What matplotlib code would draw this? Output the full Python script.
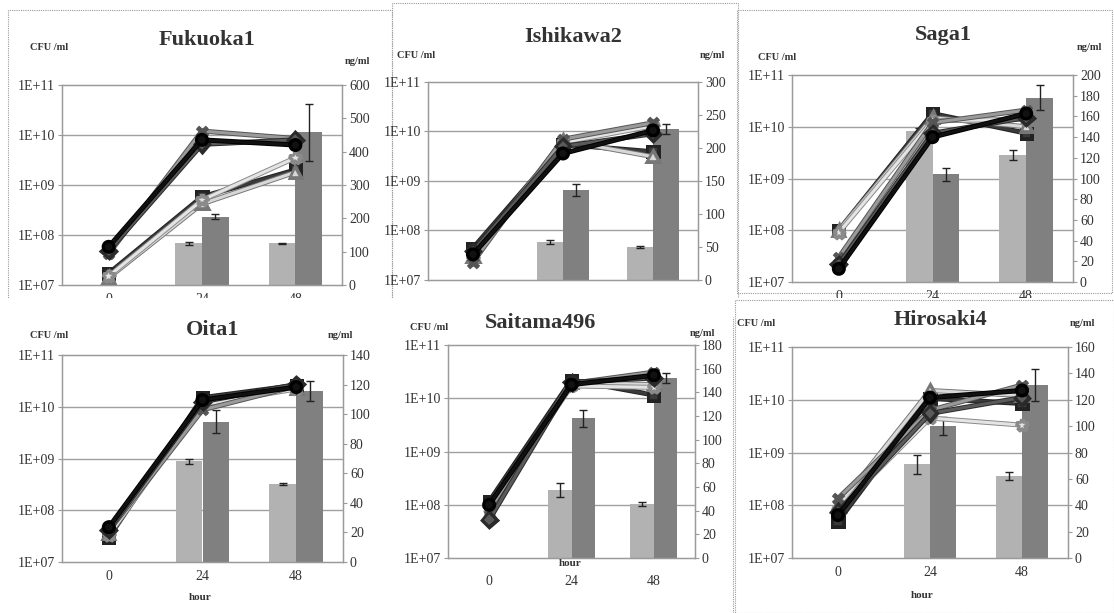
import numpy as np
import matplotlib
matplotlib.use("Agg")
import matplotlib.pyplot as plt
import matplotlib.patheffects as pe
from matplotlib.patches import Rectangle

W, H = 1114, 613

hours = ["0", "24", "48"]
cfu_ticks = [1e7, 1e8, 1e9, 1e10, 1e11]
cfu_tick_labels = ["1E+07", "1E+08", "1E+09", "1E+10", "1E+11"]

# CFU/ml line series, one list per strain (0, 24, 48 h)
fukuoka_cfu = [
    [1.7e7, 5.8e8, 2.0e9],
    [1.4e7, 4.2e8, 1.8e9],
    [1.5e7, 5.0e8, 3.5e9],
    [4.2e7, 1.2e10, 8.5e9],
    [4.8e7, 6.5e9, 8.0e9],
    [5.8e7, 8.0e9, 6.3e9],
]
ishikawa_cfu = [
    [4.4e7, 5.5e9, 3.9e9],
    [3.0e7, 6.6e9, 3.1e9],
    [2.8e7, 6.0e9, 1.3e10],
    [2.3e7, 7.0e9, 1.5e10],
    [3.8e7, 5.0e9, 9.0e9],
    [3.3e7, 3.6e9, 1.05e10],
]
saga_cfu = [
    [1.0e8, 1.8e10, 7.5e9],
    [1.0e8, 1.5e10, 1.0e10],
    [9.0e7, 1.3e10, 1.4e10],
    [3.0e7, 1.2e10, 2.1e10],
    [2.2e7, 7.5e9, 1.5e10],
    [1.8e7, 6.3e9, 1.8e10],
]
oita_cfu = [
    [3.0e7, 1.5e10, 2.6e10],
    [3.5e7, 1.2e10, 2.3e10],
    [3.3e7, 1.1e10, 2.2e10],
    [4.0e7, 8.7e9, 2.5e10],
    [4.2e7, 1.25e10, 2.7e10],
    [4.7e7, 1.35e10, 2.4e10],
]
saitama_cfu = [
    [1.15e8, 2.2e10, 1.15e10],
    [7.0e7, 2.0e10, 1.8e10],
    [9.0e7, 1.7e10, 1.6e10],
    [8.0e7, 1.9e10, 3.1e10],
    [5.2e7, 2.0e10, 2.4e10],
    [1.0e8, 1.8e10, 2.7e10],
]
hirosaki_cfu = [
    [4.9e7, 1.06e10, 8.5e9],
    [9.5e7, 1.5e10, 1.2e10],
    [8.0e7, 4.5e9, 3.3e9],
    [1.35e8, 6.3e9, 1.9e10],
    [7.5e7, 5.5e9, 1.1e10],
    [6.5e7, 1.1e10, 1.5e10],
]

# ng/ml bars (light / dark) with error bars
fukuoka_light, fukuoka_light_err = [0, 125, 125], [0, 5, 2]
fukuoka_dark, fukuoka_dark_err = [0, 205, 458], [0, 8, 85]
ishikawa_light, ishikawa_light_err = [0, 58, 50], [0, 3, 1]
ishikawa_dark, ishikawa_dark_err = [0, 136, 229], [0, 9, 8]
saga_light, saga_light_err = [0, 146, 123], [0, 3, 5]
saga_dark, saga_dark_err = [0, 104, 178], [0, 6, 12]
oita_light, oita_light_err = [0, 68, 52.6], [0, 2, 0.5]
oita_dark, oita_dark_err = [0, 95, 115.6], [0, 8, 7]
saitama_light, saitama_light_err = [0, 57.6, 45.6], [0, 6, 2]
saitama_dark, saitama_dark_err = [0, 118, 152], [0, 7, 4]
hirosaki_light, hirosaki_light_err = [0, 71, 62.5], [0, 7, 3]
hirosaki_dark, hirosaki_dark_err = [0, 100, 131], [0, 7, 12]

# line looks: (colour, marker, outline)
line_styles = [
    ("#3a3a3a", "s", "#222222"),
    ("#d8d8d8", "^", "#777777"),
    ("#e4e4e4", "*", "#8a8a8a"),
    ("#9a9a9a", "x", "#555555"),
    ("#5a5a5a", "D", "#2a2a2a"),
    ("#111111", "o", "#000000"),
]

SERIF = ["Liberation Serif", "DejaVu Serif"]
plt.rcParams["font.family"] = SERIF

fig = plt.figure(figsize=(W / 100, H / 100), dpi=100)
fig.patch.set_facecolor("white")


def fx(x):
    return x / W


def fy(y):
    return 1 - y / H


def frame(l, t, r, b, z):
    fig.patches.append(Rectangle((fx(l), fy(b)), fx(r - l), (b - t) / H,
                                 transform=fig.transFigure, fill=False,
                                 edgecolor="#9a9a9a", lw=0.8,
                                 linestyle=(0, (1, 1)), zorder=z))


def vline(x, t, b, z):
    fig.add_artist(plt.Line2D([fx(x), fx(x)], [fy(b), fy(t)], transform=fig.transFigure,
                              color="#9a9a9a", lw=0.8, linestyle=(0, (1, 1)), zorder=z))


def no_zero(err):
    return [e if e > 0 else np.nan for e in err]


def panel(box, title, title_xy, cfu_xy, ng_xy, hour_xy, cfu, light, light_err,
          dark, dark_err, ng_max, ng_step, z, xpad=6):
    l, t, r, b = box
    ax2 = fig.add_axes([fx(l), fy(b), fx(r - l), (b - t) / H])
    ax2.set_zorder(z)
    ax = ax2.twinx()
    ax.set_zorder(z + 0.1)
    ax.patch.set_visible(False)

    x = np.arange(len(hours))
    bw = 0.286
    for k in (1, 2, 3):
        ax2.plot([0, 1], [k / 4, k / 4], transform=ax2.transAxes,
                 color="#a0a0a0", lw=1.0, zorder=0)
    ekw = dict(ecolor="#222222", lw=1, capsize=3, capthick=1)
    ax2.bar(x - bw / 2, light, bw, color="#b2b2b2", zorder=2,
            yerr=no_zero(light_err), error_kw=ekw)
    ax2.bar(x + bw / 2, dark, bw, color="#808080", zorder=2,
            yerr=no_zero(dark_err), error_kw=ekw)
    ax2.set_ylim(0, ng_max)
    ax2.set_xlim(-0.5, 2.5)
    ax2.yaxis.tick_right()
    ax2.set_yticks(np.arange(0, ng_max + 1, ng_step))

    for vals, (c, m, oc) in zip(cfu, line_styles):
        ax.plot(x, vals, color=c, marker=m, ms=6.5 if m != "*" else 9, lw=2.2,
                mec=oc, mew=1.2 if m != "x" else 2,
                path_effects=[pe.withStroke(linewidth=3.6, foreground=oc)])
    ax.set_yscale("log")
    ax.set_ylim(1e7, 1e11)
    ax.yaxis.tick_left()
    ax.set_yticks(cfu_ticks)
    ax.set_yticklabels(cfu_tick_labels)
    ax.minorticks_off()

    ax2.set_xticks(x)
    ax2.set_xticklabels(hours)
    for a in (ax, ax2):
        for s in a.spines.values():
            s.set_color("#9a9a9a")
            s.set_linewidth(0.9)
        a.tick_params(labelsize=10, colors="#333333", length=3, width=0.8,
                      direction="out", pad=2)
        a.tick_params(axis="y", color="#9a9a9a")
    ax2.tick_params(axis="x", length=0, pad=xpad)

    fig.text(fx(title_xy[0]), fy(title_xy[1]), title, ha="center", va="center",
             fontsize=16, fontweight="bold", color="#333333", zorder=z + 0.2)
    fig.text(fx(cfu_xy[0]), fy(cfu_xy[1]), "CFU /ml", ha="left", va="center",
             fontsize=7.5, fontweight="bold", color="#333333", zorder=z + 0.2)
    fig.text(fx(ng_xy[0]), fy(ng_xy[1]), "ng/ml", ha="left", va="center",
             fontsize=7.5, fontweight="bold", color="#333333", zorder=z + 0.2)
    if hour_xy is not None:
        fig.text(fx(hour_xy[0]), fy(hour_xy[1]), "hour", ha="center", va="center",
                 fontsize=8, fontweight="bold", color="#333333", zorder=z + 0.2)


# top row
frame(8, 10, 392, 300, 0)
frame(392, 3, 738, 300, 0)
frame(737, 10, 1112, 293, 0)
panel((62, 85, 342, 285), "Fukuoka1", (207, 40), (30, 47), (345, 62), None,
      fukuoka_cfu, fukuoka_light, fukuoka_light_err, fukuoka_dark, fukuoka_dark_err,
      600, 100, 1)
panel((428, 82, 698, 280), "Ishikawa2", (573, 37), (397, 56), (700, 56), None,
      ishikawa_cfu, ishikawa_light, ishikawa_light_err, ishikawa_dark, ishikawa_dark_err,
      300, 50, 1)
panel((792, 75, 1073, 282), "Saga1", (943, 35), (758, 57), (1077, 47), None,
      saga_cfu, saga_light, saga_light_err, saga_dark, saga_dark_err,
      200, 20, 1)

# lower row sits on top of the upper one
fig.patches.append(Rectangle((0, 0), 1, fy(298), transform=fig.transFigure,
                             facecolor="white", edgecolor="none", zorder=3))
fig.patches.append(Rectangle((fx(394), 0), fx(342), fy(287), transform=fig.transFigure,
                             facecolor="white", edgecolor="none", zorder=3))
vline(733, 317, 613, 3.5)
frame(735, 300, 1114, 613, 3.5)
panel((62, 355, 343, 562), "Oita1", (213, 330), (30, 336), (328, 336), (200, 598),
      oita_cfu, oita_light, oita_light_err, oita_dark, oita_dark_err,
      140, 20, 4)
panel((448, 345, 695, 558), "Saitama496", (540, 323), (410, 328), (690, 333), (570, 564),
      saitama_cfu, saitama_light, saitama_light_err, saitama_dark, saitama_dark_err,
      180, 20, 4, xpad=12)
panel((792, 347, 1068, 558), "Hirosaki4", (940, 320), (737, 323), (1070, 323), (922, 595),
      hirosaki_cfu, hirosaki_light, hirosaki_light_err, hirosaki_dark, hirosaki_dark_err,
      160, 20, 4)

fig.savefig("out.png", dpi=100)
